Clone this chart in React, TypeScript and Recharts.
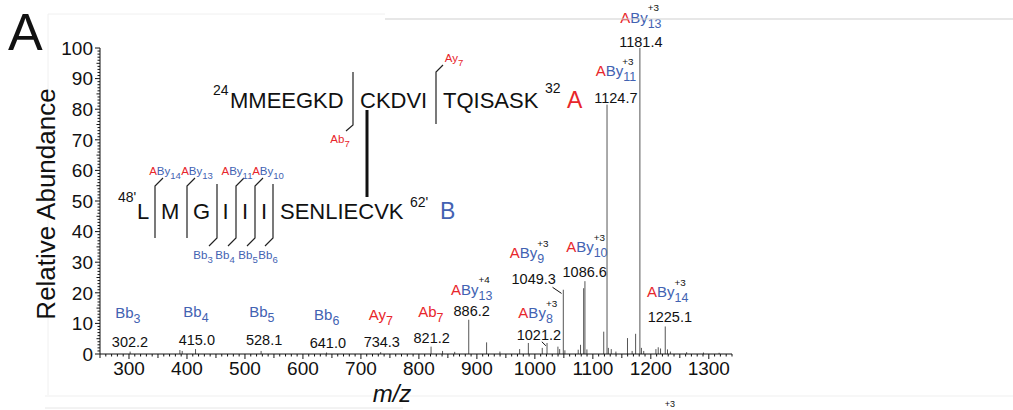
import React from "react";
import { Bar, ComposedChart, ReferenceDot, ReferenceLine, XAxis, YAxis } from "recharts";

const FONT = "Arial, 'Liberation Sans', Helvetica, sans-serif";
const RED = "#e8262b";
const BLUE = "#4262b2";
const INK = "#111";

// spectrum peaks (m/z, relative abundance)
const peakMz = [
  302.2, 388, 392, 415.0, 528.1, 641.0, 734.3, 821.2, 841, 862, 886.2, 917, 940, 974, 989,
  1013, 1021.2, 1040, 1043, 1049.3, 1052, 1075, 1079, 1084.4, 1086.6, 1090, 1119, 1124.7,
  1127, 1132, 1140, 1160, 1168, 1174, 1181.4, 1184, 1188, 1209, 1213, 1217, 1225.1, 1229,
  1234, 1262, 1291, 1318
];
const peakIntensity = [
  0.8, 1.3, 1.0, 1.6, 1.0, 0.5, 0.6, 2.4, 1.0, 0.7, 11.2, 3.8, 0.8, 1.6, 3.6,
  2.0, 3.6, 2.4, 1.6, 21.0, 1.2, 1.4, 3.0, 21.5, 23.8, 1.5, 7.3, 81.5,
  2.0, 1.6, 0.8, 5.2, 1.0, 6.6, 100, 2.0, 1.0, 1.6, 2.2, 1.8, 9.0, 1.5,
  0.8, 0.6, 0.5, 0.4
];

// annotated fragment ions
const annMz = ["302.2", "415.0", "528.1", "641.0", "734.3", "821.2", "886.2", "1021.2", "1049.3", "1086.6", "1124.7", "1181.4", "1225.1"];
const annChain = ["B", "B", "B", "B", "A", "A", "AB", "AB", "AB", "AB", "AB", "AB", "AB"];
const annIon = ["b", "b", "b", "b", "y", "b", "y", "y", "y", "y", "y", "y", "y"];
const annIndex = [3, 4, 5, 6, 7, 7, 13, 8, 9, 10, 11, 13, 14];
const annCharge = [1, 1, 1, 1, 1, 1, 4, 3, 3, 3, 3, 3, 3];

// where the labels sit (data units)
const numPos = [[301.7, 3.9], [417, 4.6], [533, 4.6], [643, 3.6], [736, 3.9], [822, 5.2], [891, 14], [1007, 6.2], [998, 24.5], [1086, 26.8], [1139.7, 83.7], [1182.8, 102], [1232.8, 12.1]];
const ionPos = [[298, 13.4], [415.5, 13.7], [529, 13.7], [641, 12.7], [734.5, 12.7], [820.7, 13.7], [891, 21], [1005, 13.4], [990, 33], [1089.7, 35], [1139.7, 92.5], [1182.8, 110], [1229, 20.3]];
const leaders = [
  [[1012, 4.0], [1019, 2.7]],
  [[1030.5, 21.8], [1046, 19.8]]
];

const xTicks = Array.from({ length: 110 }, (_, i) => 250 + i * 10);
const yTicks = Array.from({ length: 101 }, (_, i) => i);

const peaks = peakMz.map((mz, i) => ({ mz, intensity: peakIntensity[i] }));

function IonLabel({ x, y, chain, ion, index, charge, size }: any) {
  const sub = size * 0.83;
  const sup = size * 0.66;
  const ionColor = chain[chain.length - 1] === "A" ? RED : BLUE;
  const subStr = String(index);
  const subW = subStr.length * 0.556 * sub;
  return (
    <text x={x} y={y} dy={size * 0.35} textAnchor="middle" fontFamily={FONT} fontSize={size}>
      {chain.split("").map((c: string, i: number) => (
        <tspan key={i} fill={c === "A" ? RED : BLUE}>{c}</tspan>
      ))}
      <tspan fill={ionColor}>{ion}</tspan>
      <tspan fill={ionColor} fontSize={sub} dy={size * 0.33}>{subStr}</tspan>
      {charge > 1 && (
        <tspan fill={INK} fontSize={sup} dx={-subW} dy={-size * 1.1}>+{charge}</tspan>
      )}
    </text>
  );
}

const PeakShape = (p: any) => {
  if (!p.height) return <g />;
  const cx = p.x + p.width / 2;
  return <line x1={cx} x2={cx} y1={p.y} y2={p.y + p.height} stroke="#555" strokeWidth={1} />;
};

const renderXTick = (p: any) => {
  const v = p.payload.value;
  const major = v % 100 === 0;
  const len = major ? 5 : v % 50 === 0 ? 4 : 2.5;
  return (
    <g>
      <line x1={p.x} x2={p.x} y1={p.y} y2={p.y + len} stroke={INK} />
      {major && (
        <text x={p.x} y={p.y + 21} textAnchor="middle" fontFamily={FONT} fontSize={19} fill={INK}>{v}</text>
      )}
    </g>
  );
};

const renderYTick = (p: any) => {
  const v = p.payload.value;
  const major = v % 10 === 0;
  const len = major ? 5 : v % 5 === 0 ? 3.5 : 2.5;
  return (
    <g>
      <line x1={p.x} x2={p.x - len} y1={p.y} y2={p.y} stroke={INK} />
      {major && (
        <text x={p.x - 7} y={p.y} dy={6.8} textAnchor="end" fontFamily={FONT} fontSize={19} fill={INK}>{v}</text>
      )}
    </g>
  );
};

function Peptides() {
  const seq = { fontFamily: FONT, fontSize: 22, fill: INK };
  const num = { fontFamily: FONT, fontSize: 14, fill: INK };
  const br = { stroke: "#222", strokeWidth: 1.2, fill: "none" };
  return (
    <svg width={1013} height={410} style={{ position: "absolute", left: 0, top: 0, pointerEvents: "none" }}>
      {/* faint frame remnants */}
      <line x1={385} x2={1013} y1={19} y2={19} stroke="#cfcfcf" />
      <line x1={48} x2={385} y1={14} y2={14} stroke="#f0f0f0" />
      <line x1={48} x2={48} y1={14} y2={395} stroke="#f0f0f0" />
      <line x1={45} x2={1013} y1={396} y2={396} stroke="#efefef" />
      <line x1={45} x2={403} y1={408} y2={408} stroke="#e6e6e6" />
      <text x={8} y={50} fontFamily={FONT} fontSize={52} fill={INK}>A</text>
      <text transform="translate(55,204) rotate(-90)" textAnchor="middle" fontFamily={FONT} fontSize={26} fill={INK}>Relative Abundance</text>
      <text x={392} y={402} textAnchor="middle" fontFamily={FONT} fontSize={24} fontStyle="italic" fill={INK}>m/z</text>
      <text x={670} y={407} textAnchor="middle" fontFamily={FONT} fontSize={9} fill={INK}>+3</text>

      {/* peptide A */}
      <text x={213} y={95} {...num}>24</text>
      <text x={230} y={108} {...seq}>MMEEGKD</text>
      <text x={360} y={108} {...seq}>CKDVI</text>
      <text x={443} y={108} {...seq}>TQISASK</text>
      <text x={545} y={93} {...num}>32</text>
      <text x={567} y={108} fontFamily={FONT} fontSize={23} fill={RED}>A</text>
      <path d="M353 72 L353 125 L346 131" {...br} />
      <path d="M443 65 L436 72 L436 124" {...br} />
      <IonLabel x={340} y={139} chain="A" ion="b" index={7} charge={1} size={11.5} />
      <IonLabel x={454} y={58} chain="A" ion="y" index={7} charge={1} size={11.5} />
      <line x1={367} x2={367} y1={110} y2={197} stroke={INK} strokeWidth={3} />

      {/* peptide B */}
      <text x={118} y={202} {...num}>48'</text>
      <text x={137} y={219} {...seq}>L</text>
      <text x={161} y={219} {...seq}>M</text>
      <text x={193} y={219} {...seq}>G</text>
      <text x={222.6} y={219} {...seq}>I</text>
      <text x={242} y={219} {...seq}>I</text>
      <text x={261} y={219} {...seq}>I</text>
      <text x={280} y={219} {...seq}>SENLIECVK</text>
      <text x={410} y={207} {...num}>62'</text>
      <text x={440} y={219} fontFamily={FONT} fontSize={23} fill={BLUE}>B</text>
      <path d="M163 178 L155 186 L155 238" {...br} />
      <path d="M195 178 L187 186 L187 238" {...br} />
      <path d="M217 184 L217 238 L209 246" {...br} />
      <path d="M244 178 L236 186 L236 238 L228 246" {...br} />
      <path d="M263 178 L255 186 L255 238 L247 246" {...br} />
      <path d="M273 184 L273 238 L265 246" {...br} />
      <IonLabel x={165} y={171} chain="AB" ion="y" index={14} charge={1} size={11.5} />
      <IonLabel x={197} y={171} chain="AB" ion="y" index={13} charge={1} size={11.5} />
      <IonLabel x={237} y={171} chain="AB" ion="y" index={11} charge={1} size={11.5} />
      <IonLabel x={268} y={171} chain="AB" ion="y" index={10} charge={1} size={11.5} />
      <IonLabel x={203} y={255} chain="B" ion="b" index={3} charge={1} size={11.5} />
      <IonLabel x={225} y={255} chain="B" ion="b" index={4} charge={1} size={11.5} />
      <IonLabel x={248} y={255} chain="B" ion="b" index={5} charge={1} size={11.5} />
      <IonLabel x={268} y={255} chain="B" ion="b" index={6} charge={1} size={11.5} />
    </svg>
  );
}

export default function App() {
  return (
    <div style={{ position: "absolute", left: 0, top: 0, width: 1013, height: 410, background: "#fff" }}>
      <ComposedChart width={1013} height={410} data={peaks} margin={{ top: 48, right: 281, bottom: 0, left: 0 }}>
        <XAxis
          dataKey="mz"
          type="number"
          domain={[250, 1340]}
          ticks={xTicks}
          interval={0}
          height={56}
          tickSize={0}
          tickMargin={0}
          tickLine={false}
          axisLine={{ stroke: INK }}
          tick={renderXTick}
          allowDataOverflow
        />
        <YAxis
          type="number"
          domain={[0, 100]}
          ticks={yTicks}
          interval={0}
          width={100}
          tickSize={0}
          tickMargin={0}
          tickLine={false}
          axisLine={{ stroke: INK }}
          tick={renderYTick}
          allowDataOverflow
        />
        <Bar dataKey="intensity" barSize={1} shape={PeakShape} isAnimationActive={false} />
        {leaders.map((seg, i) => (
          <ReferenceLine
            key={`ld-${i}`}
            segment={[{ x: seg[0][0], y: seg[0][1] }, { x: seg[1][0], y: seg[1][1] }]}
            stroke={INK}
            strokeWidth={1}
            ifOverflow="visible"
          />
        ))}
        {annMz.map((label, i) => (
          <ReferenceDot
            key={`num-${i}`}
            x={numPos[i][0]}
            y={numPos[i][1]}
            ifOverflow="visible"
            shape={(p: any) => (
              <text x={p.cx} y={p.cy} dy={5} textAnchor="middle" fontFamily={FONT} fontSize={14.5} fill={INK}>{label}</text>
            )}
          />
        ))}
        {annMz.map((_, i) => (
          <ReferenceDot
            key={`ion-${i}`}
            x={ionPos[i][0]}
            y={ionPos[i][1]}
            ifOverflow="visible"
            shape={(p: any) => (
              <IonLabel x={p.cx} y={p.cy} chain={annChain[i]} ion={annIon[i]} index={annIndex[i]} charge={annCharge[i]} size={15} />
            )}
          />
        ))}
      </ComposedChart>
      <Peptides />
    </div>
  );
}
